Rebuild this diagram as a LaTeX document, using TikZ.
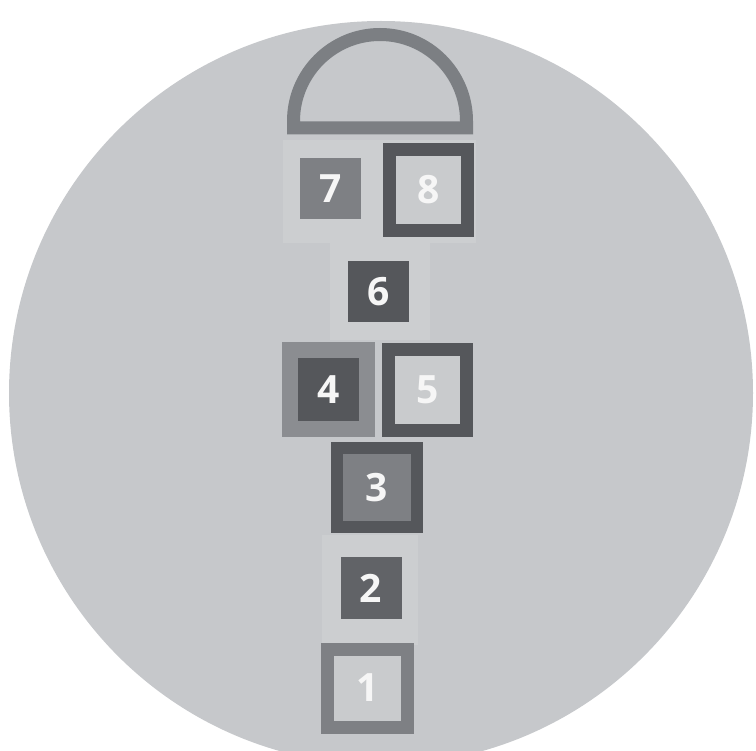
\documentclass[tikz,border=0pt]{standalone}
\usepackage{fontspec}
\setmainfont{Open Sans}
\definecolor{disc}{HTML}{C6C8CB}
\definecolor{strip}{HTML}{CCCED0}
\definecolor{arcgray}{HTML}{7C7F83}
\definecolor{dark}{HTML}{55575B}
\definecolor{mid}{HTML}{7E8084}
\definecolor{midlight}{HTML}{8B8D91}
\definecolor{inner}{HTML}{C9CBCD}
\definecolor{digit}{HTML}{F6F6F6}
\tikzset{
  num/.style={font=\fontsize{39}{39}\selectfont\bfseries, text=digit, inner sep=0pt, outer sep=0pt},
  solidbox/.style={num, rectangle, minimum width=61pt, minimum height=61pt},
  framebox/.style={num, rectangle, draw=dark, line width=13pt, fill=inner},
}
\begin{document}
\begin{tikzpicture}[x=1pt,y=-1pt]
\useasboundingbox (0,0) rectangle (756,751);
\begin{scope}
\clip (0,0) rectangle (756,751);
\fill[disc] (381,393) circle (372);
\end{scope}
% faint chalk strip behind the court
\fill[strip] (283,140) rectangle (476,243);
\fill[strip] (330,243) rectangle (430,340);
\fill[strip] (322,535) rectangle (418,645);
% hopscotch top semicircle
\draw[arcgray, line width=13pt, line join=miter] (293.5,128) -- (293.5,121) arc[start angle=180, end angle=360, radius=86.5] -- (466.5,128) -- cycle;
% squares
\node[solidbox, fill=mid] (n7) at (330.5,189) {7};
\node[framebox, minimum width=78pt, minimum height=81pt] (n8) at (428.5,190) {8};
\node[solidbox, fill=dark] (n6) at (378.5,292) {6};
\node[framebox, draw=midlight, fill=dark, line width=16pt, minimum width=77pt, minimum height=79pt] (n4) at (328.5,389.5) {4};
\node[framebox, minimum width=78pt, minimum height=81pt] (n5) at (427.5,390) {5};
\node[framebox, fill=mid, line width=12pt, minimum width=80pt, minimum height=79pt] (n3) at (377,487.5) {3};
\node[solidbox, fill=dark!70!mid] (n2) at (371,588) {2};
\node[framebox, draw=mid, minimum width=80pt, minimum height=78pt] (n1) at (367.5,688) {1};
\end{tikzpicture}
\end{document}
